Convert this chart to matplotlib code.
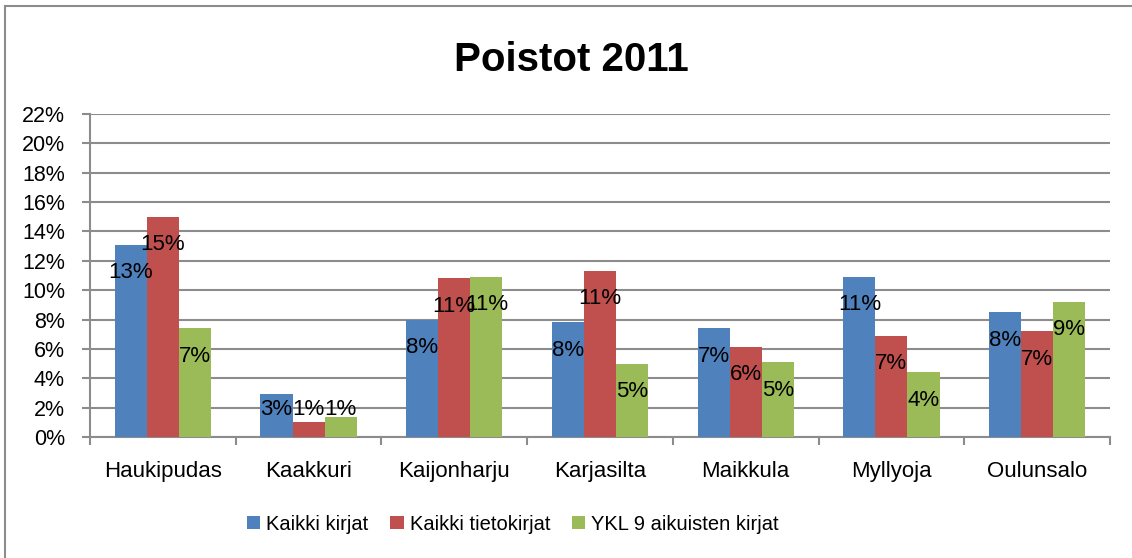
import matplotlib
matplotlib.use('Agg')
from matplotlib import pyplot as plt
from matplotlib.lines import Line2D
import numpy as np

# Poistot 2011 - share of weeded books per library branch.

branches = ['Haukipudas', 'Kaakkuri', 'Kaijonharju', 'Karjasilta',
            'Maikkula', 'Myllyoja', 'Oulunsalo']
kaikki_kirjat = [13.1, 2.9, 8.0, 7.8, 7.4, 10.9, 8.5]
kaikki_tietokirjat = [15.0, 1.0, 10.8, 11.3, 6.15, 6.9, 7.2]
ykl9_aikuisten = [7.4, 1.35, 10.9, 5.0, 5.1, 4.4, 9.2]
series_names = ['Kaikki kirjat', 'Kaikki tietokirjat', 'YKL 9 aikuisten kirjat']
y_ticks = list(range(0, 23, 2))

colours = ['#4F81BD', '#C0504D', '#9BBB59']
grey = '#8c8c8c'

# Arial-like face; sizes picked so text widths match the narrow original.
plt.rcParams['font.family'] = ['Liberation Sans', 'DejaVu Sans']

W, H = 1132, 558
fig = plt.figure(figsize=(W / 100, H / 100), dpi=100)
ax = fig.add_axes([90 / W, (H - 437) / H, (1110 - 90) / W, (437 - 114) / H])

x = np.arange(len(branches))
width = 0.22
all_series = [kaikki_kirjat, kaikki_tietokirjat, ykl9_aikuisten]
for i, (vals, name) in enumerate(zip(all_series, series_names)):
    pos = x + (i - 1) * width
    ax.bar(pos, vals, width, color=colours[i], label=name, zorder=3)
    for px, v in zip(pos, vals):
        ax.text(px, max(v - 1.9, 1.85), '{:.0f}%'.format(v), ha='center',
                va='center', fontsize=16, color='black', zorder=4)

ax.set_xlim(-0.5, len(branches) - 0.5)
ax.set_ylim(0, 22)
ax.set_yticks(y_ticks)
ax.set_yticklabels(['{}%'.format(t) for t in y_ticks], fontsize=15.5)
ax.set_xticks(np.arange(len(branches) + 1) - 0.5)
ax.set_xticklabels([])
ax.set_xticks(x, minor=True)
ax.set_xticklabels(branches, minor=True, fontsize=16)
ax.tick_params(axis='x', which='minor', length=0, pad=17)
ax.tick_params(axis='x', which='major', length=6, width=1.5, color=grey)
ax.tick_params(axis='y', length=6, width=1.5, color=grey, pad=12)

ax.grid(axis='y', color=grey, linewidth=1.5, zorder=0)
for s in ['top', 'right']:
    ax.spines[s].set_visible(False)
for s in ['left', 'bottom']:
    ax.spines[s].set_color(grey)
    ax.spines[s].set_linewidth(1.5)

fig.text(571 / W, 1 - 71 / H, 'Poistot 2011', ha='center', va='baseline',
         fontsize=29, fontweight='bold')

fig.legend(loc='center', bbox_to_anchor=(513 / W, 1 - 524 / H), ncol=3,
           frameon=False, fontsize=14.5, handlelength=0.65,
           handleheight=0.65, handletextpad=0.3, columnspacing=1.1)

# chart border (only top and left edges are visible in the original)
fig.add_artist(Line2D([5 / W, 5 / W], [0, 1 - 6 / H], color=grey, linewidth=1.5))
fig.add_artist(Line2D([5 / W, 1], [1 - 6 / H, 1 - 6 / H], color=grey, linewidth=1.5))

fig.savefig('out.png', dpi=100)
